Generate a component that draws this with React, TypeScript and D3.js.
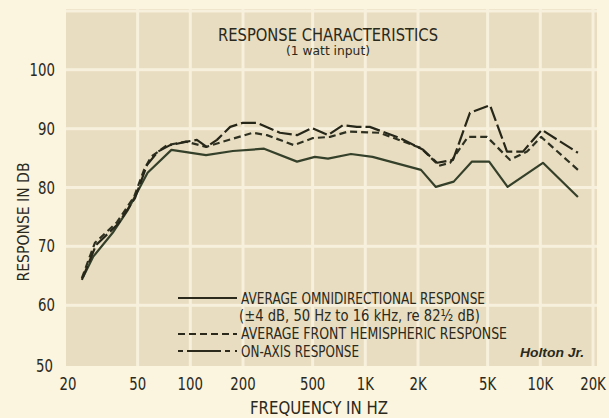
import React, { useEffect, useRef } from 'react';
import * as d3 from 'd3';

const freqTicks = [20, 50, 100, 200, 500, 1000, 2000, 5000, 10000, 20000];
const freqLabels = ['20', '50', '100', '200', '500', '1K', '2K', '5K', '10K', '20K'];
const dbTicks = [50, 60, 70, 80, 90, 100];
const gridDb = [60, 70, 80, 90, 100, 110];

// average omnidirectional response
const omniFreq = [24.4, 27.8, 36, 44, 57, 78, 123, 175, 264, 407, 515, 612, 828, 1100, 2080, 2530, 3200, 4070, 5100, 6500, 10350, 16400];
const omniDb = [64.8, 68.2, 72.3, 76.2, 82.5, 86.4, 85.5, 86.2, 86.6, 84.4, 85.2, 84.9, 85.7, 85.2, 83.0, 80.1, 81.0, 84.4, 84.4, 80.1, 84.2, 78.4];

// average front hemispheric response
const hemiFreq = [24, 28.5, 38.1, 47.7, 54.4, 59.6, 73.6, 94.4, 123, 154, 228, 274, 391, 502, 628, 796, 1210, 2080, 2640, 3050, 3860, 4960, 6700, 8400, 10100, 16400];
const hemiDb = [64.6, 70.6, 74.1, 78.4, 83.0, 85.2, 87.2, 87.8, 86.9, 87.8, 89.3, 88.9, 87.2, 88.4, 88.6, 89.5, 89.3, 86.7, 83.7, 84.2, 88.6, 88.6, 84.7, 86.1, 88.6, 83.0];

// on-axis response
const axisFreq = [24, 28.9, 38.6, 48.3, 56.5, 65.3, 76.6, 95.7, 109, 124, 142, 169, 200, 240, 325, 407, 496, 612, 745, 895, 1060, 1580, 2140, 2570, 3170, 3960, 5160, 6450, 7960, 10200, 16400];
const axisDb = [64.3, 70.2, 73.8, 78.2, 83.8, 86.1, 87.2, 87.8, 88.1, 86.9, 88.1, 90.3, 91.0, 91.0, 89.3, 88.9, 90.1, 88.9, 90.6, 90.3, 90.3, 88.4, 86.4, 84.2, 84.7, 92.7, 94.0, 86.1, 86.1, 89.8, 85.9];

const legendLabels = [
  'AVERAGE OMNIDIRECTIONAL RESPONSE',
  '(\u00b14 dB, 50 Hz to 16 kHz, re 82\u00bd dB)',
  'AVERAGE FRONT HEMISPHERIC RESPONSE',
  'ON-AXIS RESPONSE',
];

const W = 609;
const H = 418;
const FONT = "'DejaVu Sans',sans-serif";
const INK = '#2a291b';

export default function App() {
  const ref = useRef<SVGSVGElement | null>(null);

  useEffect(() => {
    const svg = d3.select(ref.current);
    svg.selectAll('*').remove();

    const x = d3.scaleLog().domain([20, 20000]).range([68, 593]);
    const y = d3.scaleLinear().domain([50, 110]).range([364, 11]);

    svg.append('rect').attr('width', W).attr('height', H).attr('fill', '#fbf4df');
    svg.append('rect')
      .attr('x', 66).attr('y', 9)
      .attr('width', 531).attr('height', 357)
      .attr('fill', '#e8ddc1');

    // grid
    const grid = svg.append('g').attr('stroke', '#f7f0dc').attr('stroke-width', 3);
    grid.selectAll('line.v')
      .data(freqTicks.slice(1))
      .join('line')
      .attr('x1', d => x(d)).attr('x2', d => x(d))
      .attr('y1', 9).attr('y2', 366);
    grid.selectAll('line.h')
      .data(gridDb)
      .join('line')
      .attr('x1', 66).attr('x2', 597)
      .attr('y1', d => y(d)).attr('y2', d => y(d));

    const txt = (sel: any, size: number) =>
      sel.attr('font-family', FONT)
        .attr('font-size', size)
        .attr('fill', INK);

    // tick labels, squeezed horizontally to mimic the condensed face
    svg.append('g')
      .selectAll('text')
      .data(dbTicks)
      .join('text')
      .attr('transform', d =>
        `translate(${d === 50 ? 53 : 55},${d === 50 ? y(d) + 8 : y(d) + 6}) scale(0.74,1)`)
      .attr('text-anchor', 'end')
      .call(txt, 18)
      .text(d => d);

    svg.append('g')
      .selectAll('text')
      .data(freqTicks)
      .join('text')
      .attr('transform', d => `translate(${x(d)},390) scale(0.74,1)`)
      .attr('text-anchor', 'middle')
      .call(txt, 18)
      .text((d, i) => freqLabels[i]);

    // axis titles
    svg.append('text')
      .attr('transform', 'translate(29,222) rotate(-90)')
      .attr('text-anchor', 'middle')
      .call(txt, 16)
      .attr('textLength', 119)
      .attr('lengthAdjust', 'spacingAndGlyphs')
      .text('RESPONSE IN DB');

    svg.append('text')
      .attr('x', 250).attr('y', 414)
      .call(txt, 17)
      .attr('textLength', 138)
      .attr('lengthAdjust', 'spacingAndGlyphs')
      .text('FREQUENCY IN HZ');

    // title
    svg.append('text')
      .attr('x', 218).attr('y', 41)
      .call(txt, 18)
      .attr('textLength', 220)
      .attr('lengthAdjust', 'spacingAndGlyphs')
      .text('RESPONSE CHARACTERISTICS');
    svg.append('text')
      .attr('x', 286).attr('y', 55)
      .call(txt, 12)
      .attr('textLength', 84)
      .attr('lengthAdjust', 'spacingAndGlyphs')
      .text('(1 watt input)');

    // curves
    const line = d3.line<[number, number]>()
      .x(d => x(d[0]))
      .y(d => y(d[1]));

    const series = [
      { f: omniFreq, v: omniDb, dash: null, color: '#35402a' },
      { f: hemiFreq, v: hemiDb, dash: '7,4', color: '#2e3121' },
      { f: axisFreq, v: axisDb, dash: '15,4', color: '#262619' },
    ];
    series.forEach(s => {
      svg.append('path')
        .datum(s.f.map((f, i) => [f, s.v[i]] as [number, number]))
        .attr('d', line)
        .attr('fill', 'none')
        .attr('stroke', s.color)
        .attr('stroke-width', 2.2)
        .attr('stroke-linejoin', 'round')
        .attr('stroke-dasharray', s.dash);
    });

    // legend
    const rowBase = [304, 321, 339, 357];
    const legendWidths = [244, 241, 266, 118];
    svg.append('g')
      .selectAll('text')
      .data(legendLabels)
      .join('text')
      .attr('x', (d, i) => (i === 1 ? 239 : 241))
      .attr('y', (d, i) => rowBase[i])
      .call(txt, 15)
      .attr('textLength', (d, i) => legendWidths[i])
      .attr('lengthAdjust', 'spacingAndGlyphs')
      .text(d => d);

    const samples = [
      { y: 298, dash: null },
      { y: 334, dash: '7,4' },
      { y: 351, dash: '5,4,34,4,5' },
    ];
    svg.append('g')
      .selectAll('line')
      .data(samples)
      .join('line')
      .attr('x1', 178).attr('x2', 237)
      .attr('y1', d => d.y).attr('y2', d => d.y)
      .attr('stroke', INK)
      .attr('stroke-width', 2)
      .attr('stroke-dasharray', d => d.dash);

    svg.append('text')
      .attr('x', 520).attr('y', 357)
      .attr('font-family', "'Liberation Sans','DejaVu Sans',sans-serif")
      .attr('font-size', 13)
      .attr('font-weight', 'bold')
      .attr('font-style', 'italic')
      .attr('fill', INK)
      .attr('textLength', 64)
      .attr('lengthAdjust', 'spacingAndGlyphs')
      .text('Holton Jr.');
  }, []);

  return (
    <svg
      ref={ref}
      width={W}
      height={H}
      style={{ position: 'absolute', left: 0, top: 0, display: 'block' }}
    />
  );
}
